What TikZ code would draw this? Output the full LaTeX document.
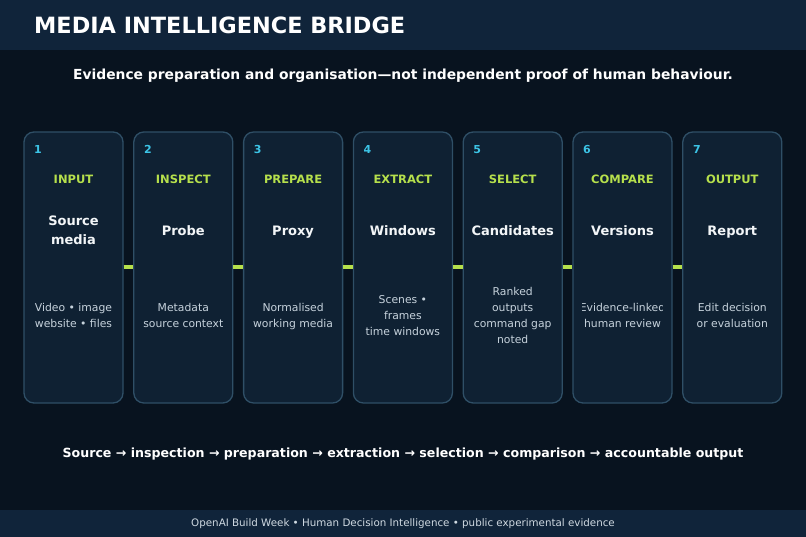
\documentclass[tikz,border=0pt]{standalone}
\usepackage{fontspec}
\setmainfont{DejaVu Sans}
\definecolor{bgc}{HTML}{08131F}
\definecolor{hdrc}{HTML}{10243A}
\definecolor{cardfill}{HTML}{0F2133}
\definecolor{cardline}{HTML}{2F4F66}
\definecolor{numc}{HTML}{3CC4E6}
\definecolor{labc}{HTML}{B6E04C}
\definecolor{titc}{HTML}{F3F6F8}
\definecolor{descc}{HTML}{C6D2DC}
\definecolor{footc}{HTML}{D0DAE2}
\tikzset{
  card/.style={draw=cardline, line width=1.3pt, fill=cardfill, rounded corners=10pt,
    minimum width=99pt, minimum height=271pt, inner sep=0pt},
  numtxt/.style={anchor=base west, inner sep=0pt, text=numc, font=\fontsize{11}{13}\selectfont\bfseries},
  labtxt/.style={anchor=base, inner sep=0pt, text=labc, font=\fontsize{11.5}{14}\selectfont\bfseries},
  tittxt/.style={anchor=north, inner sep=0pt, text=titc, align=center, font=\fontsize{13}{19.5}\selectfont\bfseries},
  desctxt/.style={anchor=north, inner sep=0pt, text=descc, align=center, font=\fontsize{10.8}{16}\selectfont},
  conn/.style={draw=labc, line width=4pt},
}
\begin{document}
\begin{tikzpicture}[x=1pt,y=-1pt]
\useasboundingbox (0,0) rectangle (806,537);
\fill[bgc] (0,0) rectangle (806,537);
\fill[hdrc] (0,0) rectangle (806,50);
\fill[hdrc] (0,510) rectangle (806,537);
\node[anchor=base west, inner sep=0pt, text=white, font=\fontsize{22.4}{26}\selectfont\bfseries] (title) at (34,33.3) {MEDIA INTELLIGENCE BRIDGE};
\node[anchor=base, inner sep=0pt, text=white, font=\fontsize{13.85}{17}\selectfont\bfseries] (subtitle) at (403,79.5) {Evidence preparation and organisation—not independent proof of human behaviour.};
\foreach \i/\lab/\tn/\ttl/\dn/\desc in {
  1/INPUT/2/{Source\\media}/2/{Video • image\\website • files},
  2/INSPECT/1/{Probe}/2/{Metadata\\source context},
  3/PREPARE/1/{Proxy}/2/{Normalised\\working media},
  4/EXTRACT/1/{Windows}/3/{Scenes •\\frames\\time windows},
  5/SELECT/1/{Candidates}/4/{Ranked\\outputs\\command gap\\noted},
  6/COMPARE/1/{Versions}/2/{Evidence-linked\\human review},
  7/OUTPUT/1/{Report}/2/{Edit decision\\or evaluation}} {
  \pgfmathsetmacro\L{24+(\i-1)*109.8}
  \pgfmathsetmacro\C{\L+49.5}
  \pgfmathsetmacro\TY{235-(\tn-1)*9.75-12}
  \pgfmathsetmacro\DY{319-(\dn-1)*8-10}
  \node[card] (c\i) at (\C,267.5) {};
  \node[numtxt] (n\i) at (\L+10,154) {\i};
  \node[labtxt] (l\i) at (\C,183.3) {\lab};
  \node[tittxt] (t\i) at (\C,\TY) {\rule{0pt}{12pt}\ttl};
  \begin{scope}
    \clip (\C-40.5,132) rectangle (\C+39.8,403);
    \node[desctxt] (d\i) at (\C,\DY) {\rule{0pt}{10pt}\desc};
  \end{scope}
}
\foreach \i [evaluate=\i as \j using int(\i+1)] in {1,...,6}
  \draw[conn] (c\i.east) -- (c\j.west);
\node[anchor=base, inner sep=0pt, text=white, font=\fontsize{12.6}{16}\selectfont\bfseries] (flow) at (403,457.3) {Source → inspection → preparation → extraction → selection → comparison → accountable output};
\node[anchor=base, inner sep=0pt, text=footc, font=\fontsize{10.3}{13}\selectfont] (foot) at (403,526) {OpenAI Build Week • Human Decision Intelligence • public experimental evidence};
\end{tikzpicture}
\end{document}
